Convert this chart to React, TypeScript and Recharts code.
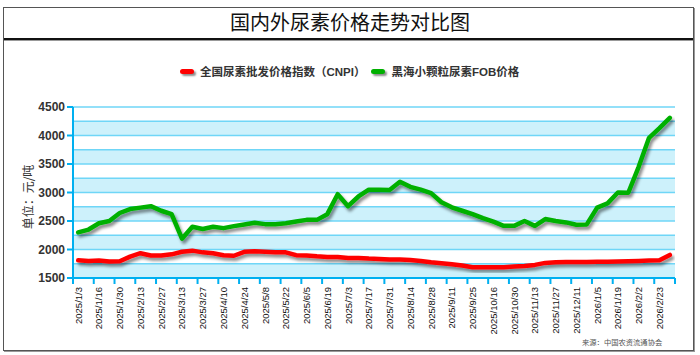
import React from 'react';
import { LineChart, Line, XAxis, YAxis, ReferenceArea, ReferenceLine } from 'recharts';

const dateLabels = [
  '2025/1/3', '2025/1/16', '2025/1/30', '2025/2/13', '2025/2/27', '2025/3/13', '2025/3/27',
  '2025/4/10', '2025/4/24', '2025/5/8', '2025/5/22', '2025/6/5', '2025/6/19', '2025/7/3',
  '2025/7/17', '2025/7/31', '2025/8/14', '2025/8/28', '2025/9/11', '2025/9/25', '2025/10/16',
  '2025/10/30', '2025/11/13', '2025/11/27', '2025/12/11', '2026/1/5', '2026/1/19', '2026/2/2',
  '2026/2/23',
];

const cnpi = [
  1810, 1800, 1805, 1790, 1795, 1875, 1935, 1895, 1895, 1915, 1960, 1980, 1950, 1935, 1900,
  1890, 1960, 1970, 1960, 1950, 1950, 1900, 1895, 1880, 1870, 1870, 1850, 1850, 1840, 1835,
  1825, 1825, 1815, 1800, 1775, 1760, 1740, 1720, 1690, 1690, 1690, 1690, 1700, 1710, 1730,
  1765, 1775, 1780, 1780, 1780, 1785, 1785, 1790, 1795, 1800, 1805, 1810, 1905,
];

const fob = [
  2300, 2350, 2460, 2500, 2640, 2710, 2735, 2760, 2680, 2620, 2190, 2400, 2360, 2400, 2375,
  2410, 2440, 2470, 2445, 2445, 2460, 2490, 2520, 2520, 2620, 2970, 2760, 2930, 3050, 3050,
  3045, 3190, 3100, 3050, 2990, 2830, 2740, 2680, 2620, 2550, 2490, 2415, 2415, 2500, 2415,
  2535, 2500, 2475, 2435, 2440, 2735, 2810, 3000, 2995, 3450, 3960, 4130, 4310,
];

const seriesNames = ['全国尿素批发价格指数（CNPI）', '黑海小颗粒尿素FOB价格'];
const yTicks = [1500, 2000, 2500, 3000, 3500, 4000, 4500];
const gridValues = [1750, 2000, 2250, 2500, 2750, 3000, 3250, 3500, 3750, 4000, 4250, 4500];
const bands = [[1500, 1750], [2000, 2250], [2500, 2750], [3000, 3250], [3500, 3750], [4000, 4250]];

const data = cnpi.map((v, i) => ({ x: i + 0.5, cnpi: v, fob: fob[i] }));
const xTicks = Array.from({ length: 30 }, (_, i) => i * 2);

const AXIS = '#00b0f0';
const GRID = '#6fd6f7';
const BAND = '#cdf1fb';

const XTick = (props: any) => {
  const { x, y, payload } = props;
  const idx = payload.value / 2;
  const label = dateLabels[idx];
  return (
    <g>
      <line x1={x} x2={x} y1={y - 8} y2={y - 2} stroke={AXIS} strokeWidth={2} />
      {label ? (
        <text
          x={0}
          y={0}
          transform={`translate(${x + 5.2}, ${y + 1}) rotate(-90)`}
          textAnchor="end"
          dominantBaseline="central"
          fontSize={9.5}
          fontFamily="Arial, 'Liberation Sans', sans-serif"
          fill="#111"
        >
          {label}
        </text>
      ) : null}
    </g>
  );
};

const YTick = (props: any) => {
  const { x, y, payload } = props;
  return (
    <text
      x={x}
      y={y}
      textAnchor="end"
      dominantBaseline="central"
      fontSize={12}
      fontWeight="bold"
      fontFamily="Arial, 'Liberation Sans', sans-serif"
      fill="#333"
    >
      {payload.value}
    </text>
  );
};

const LegendItem = ({ color, name }: { color: string; name: string }) => (
  <div style={{ display: 'flex', alignItems: 'center', marginRight: 6 }}>
    <div
      style={{
        width: 14,
        height: 5,
        borderRadius: 3,
        background: color,
        boxShadow: '2px 2px 2px rgba(0,0,0,0.45)',
        marginRight: 6,
      }}
    />
    <span
      style={{
        fontSize: 11.5,
        fontWeight: 'bold',
        color: '#333',
        fontFamily: "Arial, 'Noto Sans CJK SC', sans-serif",
        whiteSpace: 'nowrap',
      }}
    >
      {name}
    </span>
  </div>
);

export default function App() {
  return (
    <div
      style={{
        position: 'absolute',
        left: 0,
        top: 0,
        width: 700,
        height: 355,
        background: '#fff',
        overflow: 'hidden',
      }}
    >
      {/* frame */}
      <div
        style={{
          position: 'absolute',
          left: 3,
          top: 7,
          width: 689,
          height: 342,
          border: '1px solid #555',
          boxShadow: '1px 1px 0 #999',
        }}
      />
      <div style={{ position: 'absolute', left: 4, top: 38, width: 689, height: 2, background: '#111' }} />
      <div style={{ position: 'absolute', left: 4, top: 40, width: 689, height: 1, background: '#999' }} />
      <div
        style={{
          position: 'absolute',
          left: 0,
          top: 9,
          width: 700,
          textAlign: 'center',
          fontSize: 20,
          fontFamily: "'Noto Sans CJK SC', sans-serif",
          color: '#111',
          lineHeight: '26px',
        }}
      >
        国内外尿素价格走势对比图
      </div>
      {/* legend */}
      <div style={{ position: 'absolute', left: 180, top: 63, display: 'flex', alignItems: 'center', height: 16 }}>
        <LegendItem color="#ff0000" name={seriesNames[0]} />
        <LegendItem color="#00b000" name={seriesNames[1]} />
      </div>
      {/* y axis title */}
      <div
        style={{
          position: 'absolute',
          left: 27,
          top: 197,
          transform: 'translate(-50%, -50%) rotate(-90deg)',
          fontSize: 12,
          fontFamily: "'Noto Sans CJK SC', sans-serif",
          color: '#333',
          whiteSpace: 'nowrap',
        }}
      >
        单位：元/吨
      </div>
      {/* source */}
      <div
        style={{
          position: 'absolute',
          left: 582,
          top: 337,
          fontSize: 7.3,
          fontFamily: "'Noto Sans CJK SC', sans-serif",
          color: '#555',
          whiteSpace: 'nowrap',
        }}
      >
        来源：中国农资流通协会
      </div>
      <div style={{ position: 'absolute', left: 0, top: 0 }}>
        <LineChart width={700} height={355} data={data} margin={{ top: 107, right: 25, bottom: 17, left: 10 }}>
          <defs>
            <filter id="shadow" x="-10%" y="-10%" width="130%" height="140%">
              <feDropShadow dx="2" dy="3" stdDeviation="1.5" floodColor="#000" floodOpacity="0.45" />
            </filter>
          </defs>
          <XAxis
            type="number"
            dataKey="x"
            domain={[0, 58]}
            ticks={xTicks}
            interval={0}
            height={60}
            axisLine={{ stroke: AXIS, strokeWidth: 2 }}
            tickLine={false}
            tick={<XTick />}
            allowDataOverflow
          />
          <YAxis
            type="number"
            domain={[1500, 4500]}
            ticks={yTicks}
            interval={0}
            width={63}
            axisLine={{ stroke: AXIS, strokeWidth: 2 }}
            tickLine={{ stroke: AXIS, strokeWidth: 2 }}
            tickSize={6}
            tick={<YTick />}
            allowDataOverflow
          />
          {bands.map((b, i) => (
            <ReferenceArea key={'b' + i} y1={b[0]} y2={b[1]} fill={BAND} fillOpacity={1} stroke="none" ifOverflow="hidden" />
          ))}
          {gridValues.map((v) => (
            <ReferenceLine key={'g' + v} y={v} stroke={GRID} strokeWidth={1.5} />
          ))}
          <Line
            type="linear"
            dataKey="cnpi"
            name={seriesNames[0]}
            stroke="#ff0000"
            strokeWidth={4.5}
            dot={false}
            isAnimationActive={false}
            filter="url(#shadow)"
            strokeLinejoin="round"
            strokeLinecap="round"
          />
          <Line
            type="linear"
            dataKey="fob"
            name={seriesNames[1]}
            stroke="#00b000"
            strokeWidth={4.5}
            dot={false}
            isAnimationActive={false}
            filter="url(#shadow)"
            strokeLinejoin="round"
            strokeLinecap="round"
          />
        </LineChart>
      </div>
    </div>
  );
}
